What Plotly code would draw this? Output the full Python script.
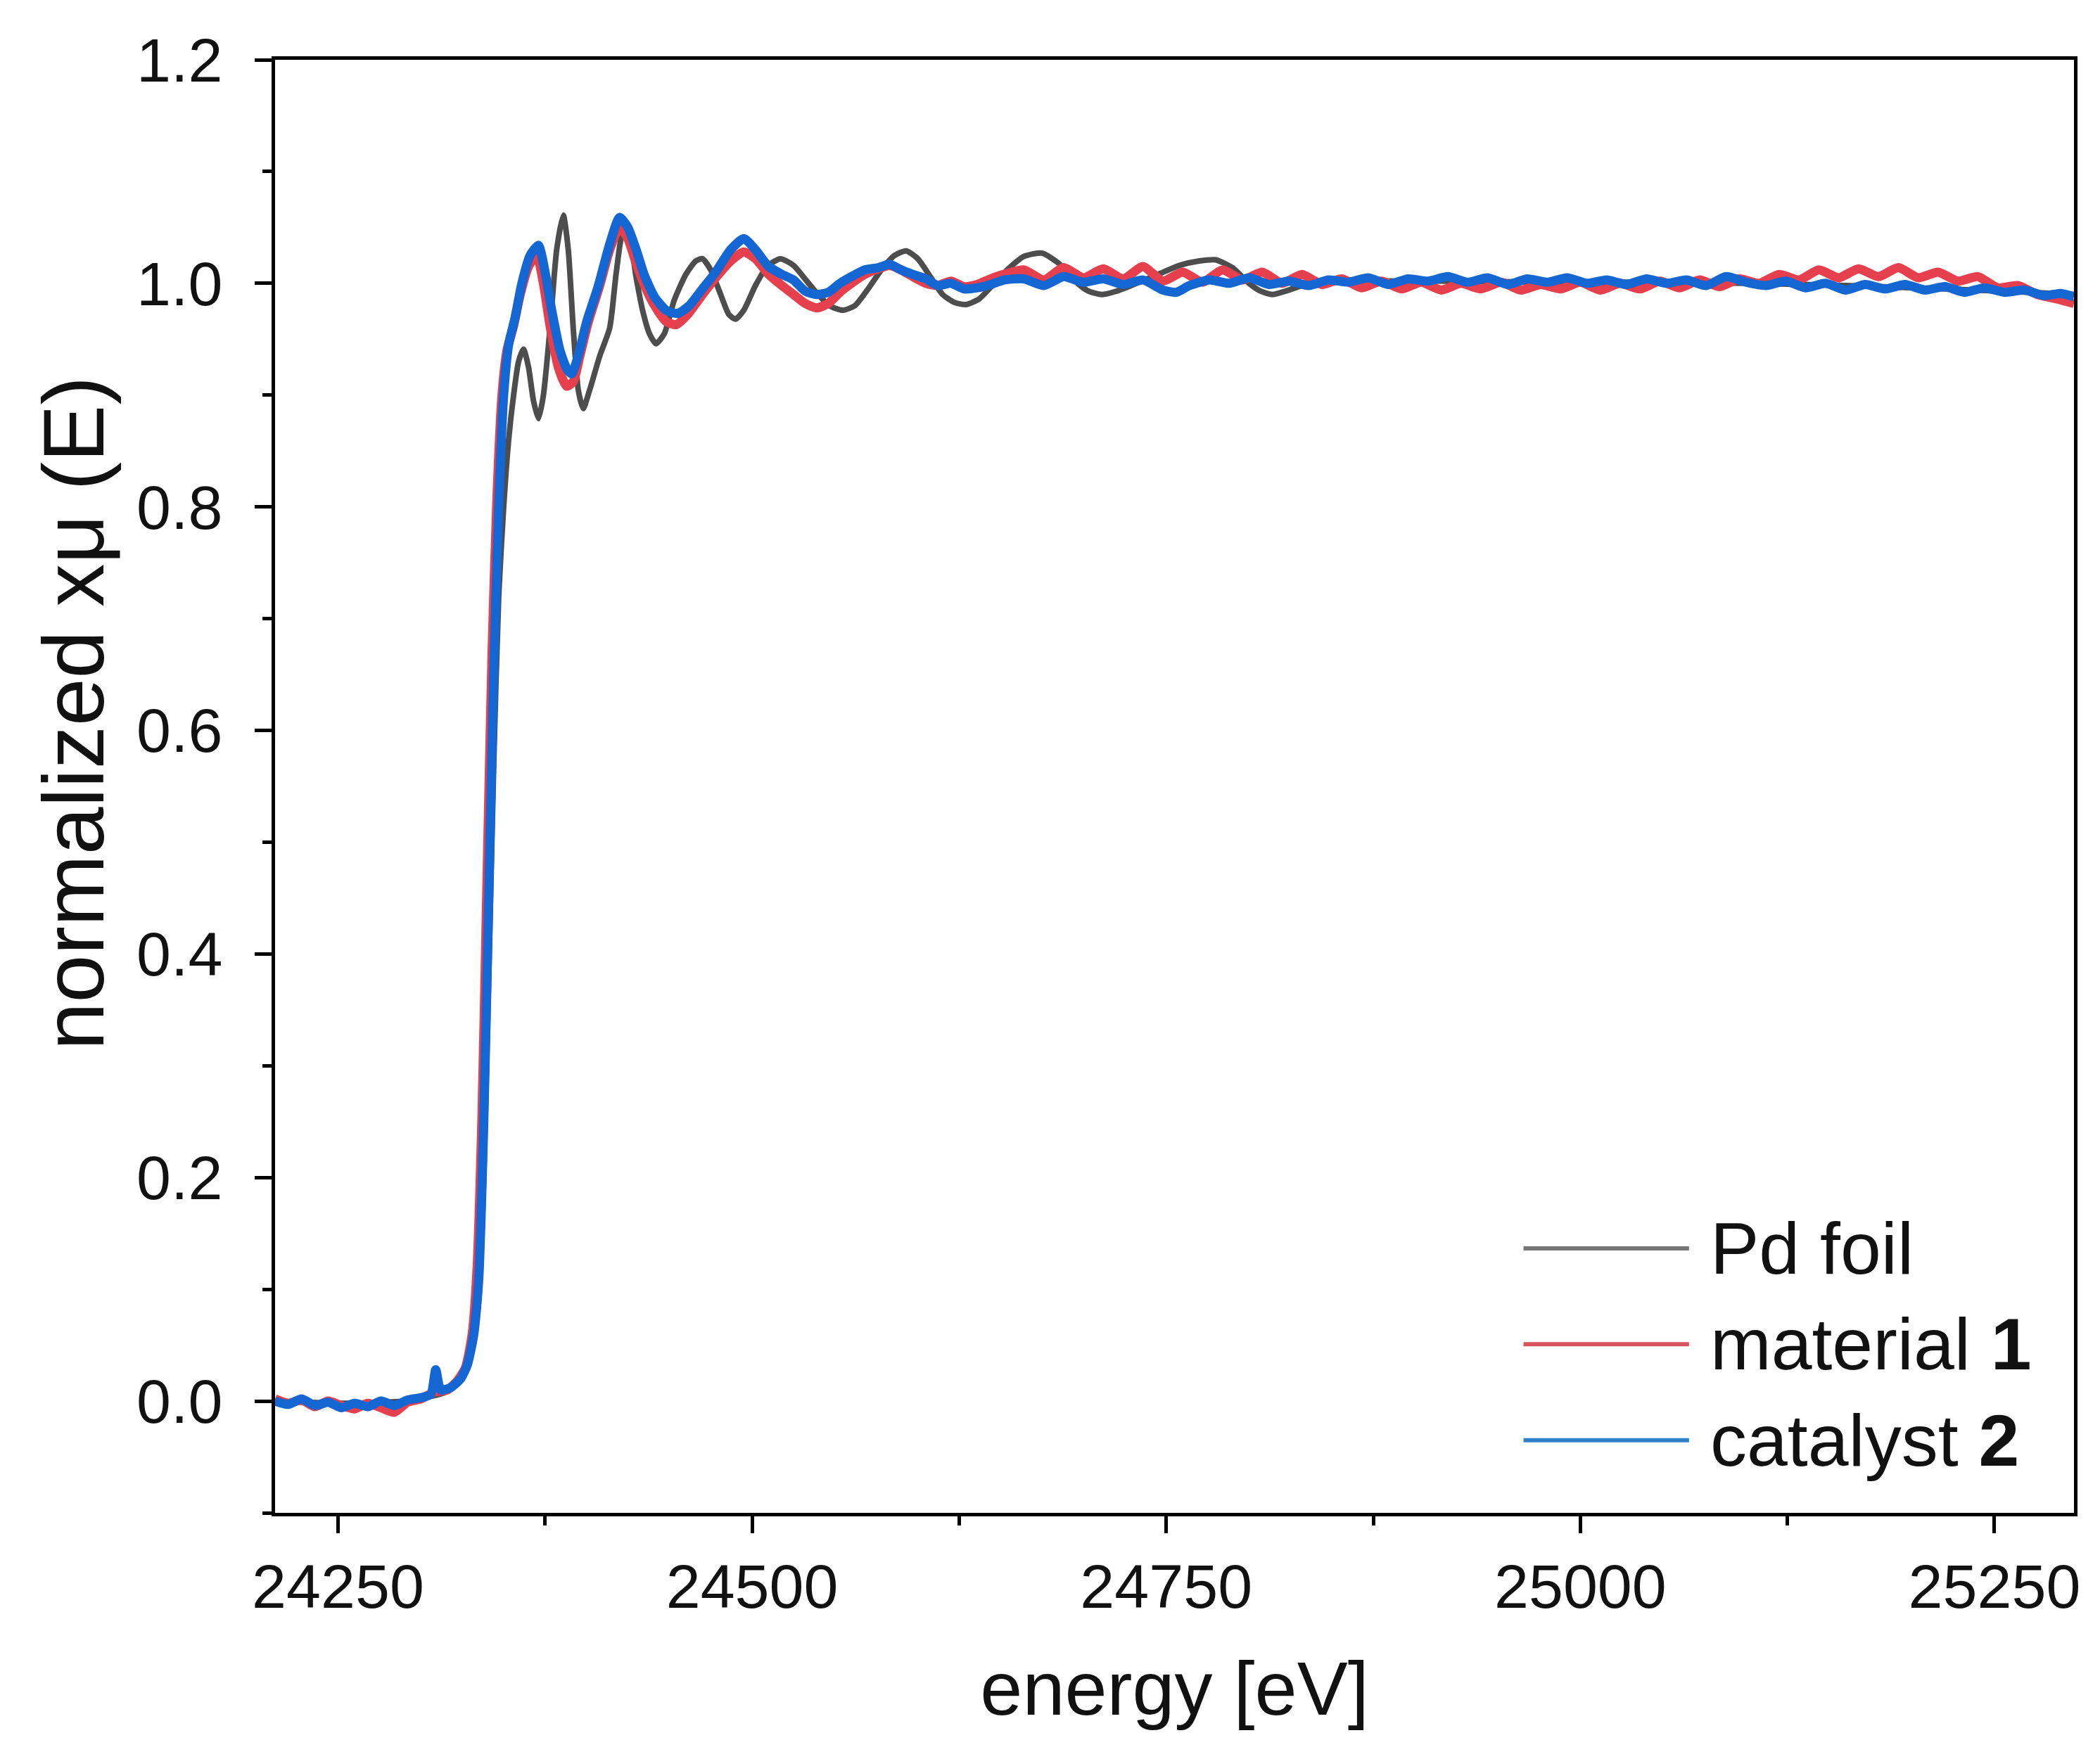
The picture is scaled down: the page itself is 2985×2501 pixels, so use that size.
import plotly.graph_objects as go

# ==========================================
# Pd K-edge XANES: Pd foil / material 1 / catalyst 2
# ==========================================

# --- Pd foil (smooth reference) ---
E_FOIL = [24212, 24250, 24290, 24315, 24325, 24331, 24335, 24338, 24341, 24344,
          24347, 24350, 24353, 24356, 24359, 24362, 24365, 24368, 24371, 24374,
          24378, 24382, 24386, 24389, 24392, 24395, 24398, 24402, 24408, 24414,
          24418, 24422, 24426, 24430, 24434, 24438, 24442, 24447, 24453, 24460,
          24466, 24470, 24475, 24481, 24486, 24490, 24495, 24502, 24509, 24517,
          24525, 24533, 24541, 24548, 24555, 24562, 24570, 24578, 24586, 24593,
          24600, 24608, 24615, 24622, 24629, 24637, 24645, 24654, 24664, 24675,
          24685, 24695, 24703, 24711, 24720, 24732, 24745, 24758, 24770, 24780,
          24790, 24800, 24807, 24814, 24822, 24832, 24845, 24870, 24920, 24980,
          25040, 25100, 25160, 25220, 25270, 25298]
MU_FOIL = [0.000, -0.002, 0.000, 0.008, 0.020, 0.045, 0.090, 0.200, 0.380, 0.570,
           0.720, 0.800, 0.860, 0.900, 0.930, 0.941, 0.925, 0.895, 0.879, 0.900,
           0.960, 1.030, 1.061, 1.030, 0.960, 0.905, 0.888, 0.905, 0.935, 0.960,
           1.010, 1.045, 1.040, 1.005, 0.975, 0.955, 0.946, 0.955, 0.985, 1.008,
           1.020, 1.022, 1.012, 0.990, 0.972, 0.968, 0.976, 0.998, 1.015, 1.022,
           1.016, 1.002, 0.988, 0.979, 0.976, 0.980, 0.995, 1.012, 1.025, 1.029,
           1.022, 1.005, 0.990, 0.983, 0.981, 0.986, 0.998, 1.012, 1.024, 1.027,
           1.018, 1.002, 0.993, 0.990, 0.993, 1.000, 1.008, 1.016, 1.020, 1.021,
           1.014, 1.000, 0.993, 0.990, 0.993, 0.998, 1.001, 1.002, 1.002, 1.001,
           1.001, 1.000, 0.998, 0.995, 0.992, 0.990]

# --- material 1 ---
E_MAT1 = [24212, 24220, 24228, 24236, 24244, 24252, 24260, 24268, 24276, 24284,
          24292, 24300, 24308, 24316, 24322, 24327, 24331, 24334, 24337, 24340,
          24343, 24346, 24349, 24352, 24356, 24360, 24365, 24370, 24374, 24378,
          24383, 24388, 24392, 24396, 24401, 24408, 24414, 24420, 24425, 24430,
          24436, 24442, 24448, 24454, 24461, 24470, 24478, 24487, 24495, 24502,
          24510, 24518, 24525, 24532, 24539, 24546, 24553, 24560, 24568, 24576,
          24583, 24590, 24597, 24605, 24612, 24620, 24628, 24636, 24644, 24652,
          24664, 24676, 24688, 24700, 24712, 24724, 24736, 24748, 24760, 24772,
          24784, 24796, 24808, 24820, 24832, 24844, 24856, 24868, 24880, 24892,
          24904, 24916, 24928, 24940, 24952, 24964, 24976, 24988, 25000, 25012,
          25024, 25036, 25048, 25060, 25072, 25084, 25096, 25108, 25120, 25132,
          25144, 25156, 25168, 25180, 25192, 25204, 25216, 25228, 25240, 25252,
          25264, 25276, 25288, 25298]
MU_MAT1 = [0.002, -0.002, 0.001, -0.005, 0.000, -0.004, -0.007, -0.002, -0.006, -0.010,
           -0.001, 0.002, 0.008, 0.010, 0.018, 0.030, 0.060, 0.120, 0.260, 0.470,
           0.670, 0.810, 0.900, 0.940, 0.962, 0.990, 1.015, 1.025, 1.000, 0.962,
           0.925, 0.908, 0.912, 0.935, 0.965, 0.998, 1.030, 1.050, 1.040, 1.018,
           0.995, 0.978, 0.966, 0.963, 0.972, 0.990, 1.005, 1.020, 1.028, 1.022,
           1.008, 0.998, 0.990, 0.982, 0.978, 0.982, 0.992, 1.000, 1.008, 1.013,
           1.016, 1.012, 1.006, 1.000, 0.998, 1.002, 0.997, 0.999, 1.004, 1.008,
           1.012, 1.003, 1.014, 1.005, 1.013, 1.004, 1.015, 1.002, 1.010, 1.001,
           1.012, 1.003, 1.010, 1.000, 1.008, 0.999, 1.004, 0.996, 1.002, 0.995,
           1.001, 0.994, 1.000, 0.995, 1.001, 0.994, 0.999, 0.995, 1.001, 0.994,
           1.000, 0.995, 1.002, 0.996, 1.003, 0.997, 1.004, 1.000, 1.008, 1.003,
           1.012, 1.005, 1.013, 1.006, 1.014, 1.005, 1.010, 1.002, 1.006, 0.996,
           0.998, 0.990, 0.986, 0.982]

# --- catalyst 2 ---
E_CAT2 = [24212, 24220, 24228, 24236, 24244, 24252, 24260, 24268, 24276, 24284,
          24292, 24300, 24306, 24309, 24312, 24318, 24324, 24328, 24332, 24335,
          24338, 24341, 24344, 24347, 24350, 24353, 24357, 24361, 24366, 24371,
          24375, 24379, 24384, 24388, 24391, 24395, 24400, 24407, 24414, 24420,
          24425, 24430, 24435, 24441, 24448, 24455, 24462, 24470, 24478, 24487,
          24495, 24502, 24510, 24518, 24525, 24532, 24539, 24546, 24553, 24560,
          24568, 24576, 24583, 24590, 24597, 24605, 24612, 24620, 24628, 24636,
          24644, 24652, 24664, 24676, 24688, 24700, 24712, 24724, 24736, 24748,
          24756, 24764, 24776, 24788, 24800, 24812, 24824, 24836, 24848, 24860,
          24872, 24884, 24896, 24908, 24920, 24932, 24944, 24956, 24968, 24980,
          24992, 25004, 25016, 25028, 25040, 25052, 25064, 25076, 25088, 25100,
          25112, 25124, 25136, 25148, 25160, 25172, 25184, 25196, 25208, 25220,
          25232, 25244, 25256, 25268, 25280, 25290, 25298]
MU_CAT2 = [0.000, -0.003, 0.002, -0.004, -0.001, -0.006, -0.002, -0.005, 0.000, -0.004,
           0.001, 0.003, 0.006, 0.028, 0.010, 0.012, 0.020, 0.032, 0.060, 0.110,
           0.250, 0.450, 0.650, 0.800, 0.900, 0.945, 0.970, 1.000, 1.025, 1.034,
           1.010, 0.976, 0.940, 0.924, 0.919, 0.935, 0.965, 0.997, 1.035, 1.059,
           1.050, 1.030, 1.007, 0.988, 0.976, 0.973, 0.980, 0.995, 1.010, 1.030,
           1.040, 1.030, 1.015, 1.008, 1.003, 0.993, 0.990, 0.992, 1.000, 1.006,
           1.012, 1.014, 1.017, 1.012, 1.008, 1.004, 0.998, 1.000, 0.995, 0.996,
           0.999, 1.003, 1.004, 0.998, 1.006, 1.001, 1.004, 0.999, 1.003, 0.994,
           0.992, 0.998, 1.003, 1.000, 1.005, 0.999, 1.002, 0.998, 1.003, 1.001,
           1.005, 0.999, 1.004, 1.002, 1.006, 1.001, 1.005, 0.999, 1.004, 1.001,
           1.005, 1.000, 1.003, 0.999, 1.004, 1.000, 1.003, 0.998, 1.006, 1.001,
           0.998, 1.002, 0.996, 1.000, 0.994, 0.999, 0.995, 0.999, 0.994, 0.997,
           0.992, 0.996, 0.992, 0.994, 0.989, 0.991, 0.988]

SERIES_NAMES = ['Pd foil', 'material <b>1</b>', 'catalyst <b>2</b>']
LINE_COLORS = ['#4d4d4d', '#e6404e', '#1466d2']
LEGEND_COLORS = ['#777777', '#d9535f', '#2f80c8']

X_RANGE = [24212, 25298]
Y_RANGE = [-0.1, 1.2]

FONT = 'Liberation Sans, Arial, sans-serif'

fig = go.Figure()

for (x, y), color, width in zip([(E_FOIL, MU_FOIL), (E_MAT1, MU_MAT1), (E_CAT2, MU_CAT2)],
                                LINE_COLORS, [8, 13, 13]):
    fig.add_trace(go.Scatter(
        x=x, y=y, mode='lines',
        line=dict(color=color, width=width, shape='spline', smoothing=0.6),
        showlegend=False, hoverinfo='skip'
    ))

# hand-drawn legend (long line samples like the original)
leg_y = [0.182, 0.116, 0.050]
for name, color, yy in zip(SERIES_NAMES, LEGEND_COLORS, leg_y):
    fig.add_shape(type='line', xref='paper', yref='paper',
                  x0=0.694, x1=0.786, y0=yy, y1=yy,
                  line=dict(color=color, width=6))
    fig.add_annotation(xref='paper', yref='paper', x=0.797, y=yy,
                       text=name, showarrow=False, xanchor='left', yanchor='middle',
                       font=dict(family=FONT, size=104, color='#111111'))

# y title placed a bit above the middle, as in the original
fig.add_annotation(xref='paper', yref='paper', x=-0.112, y=0.55,
                   text='normalized xμ (E)', textangle=-90, showarrow=False,
                   xanchor='center', yanchor='middle',
                   font=dict(family=FONT, size=122, color='#111111'))

axis_common = dict(
    showline=True, linecolor='black', linewidth=5, mirror=True,
    ticks='outside', tickcolor='black', tickwidth=5, ticklen=24,
    showgrid=False, zeroline=False,
    tickfont=dict(family=FONT, size=88, color='#111111'),
)

fig.update_xaxes(
    range=X_RANGE, dtick=250, tick0=0, tickformat='d',
    minor=dict(ticks='outside', ticklen=13, tickwidth=5, tickcolor='black', dtick=125, tick0=0),
    title=dict(text='energy [eV]', font=dict(family=FONT, size=108, color='#111111'), standoff=60),
    **axis_common
)
fig.update_yaxes(
    range=Y_RANGE, dtick=0.2, tick0=0, tickformat='.1f', ticklabelstandoff=28,
    minor=dict(ticks='outside', ticklen=13, tickwidth=5, tickcolor='black', dtick=0.1, tick0=0),
    **axis_common
)

fig.update_layout(
    width=2985, height=2501,
    margin=dict(l=383, r=45, t=77, b=358),
    plot_bgcolor='white', paper_bgcolor='white',
    font=dict(family=FONT, color='#111111'),
    showlegend=False,
)

fig.write_html('out.html')
